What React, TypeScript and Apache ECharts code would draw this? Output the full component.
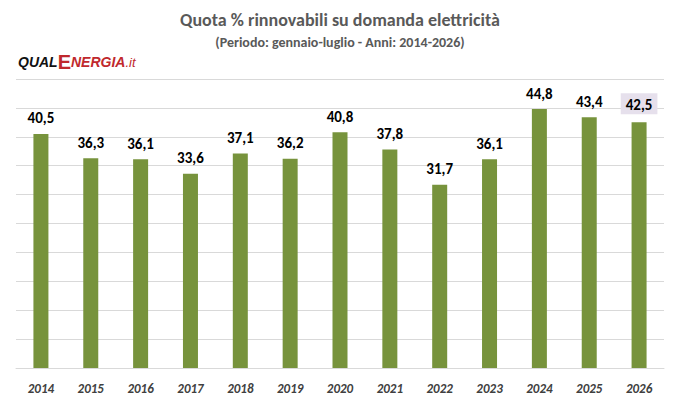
import { useEffect, useRef } from "react";
import * as echarts from "echarts";

const years = ["2014", "2015", "2016", "2017", "2018", "2019", "2020", "2021", "2022", "2023", "2024", "2025", "2026"];
const shares = [40.5, 36.3, 36.1, 33.6, 37.1, 36.2, 40.8, 37.8, 31.7, 36.1, 44.8, 43.4, 42.5];

export default function App() {
  const ref = useRef<HTMLDivElement>(null);

  useEffect(() => {
    if (!ref.current) return;
    const chart = echarts.init(ref.current, null, { renderer: "svg" });
    const font = "Calibri, Carlito, 'Open Sans', sans-serif";
    chart.setOption({
      animation: false,
      backgroundColor: "#fff",
      textStyle: { fontFamily: font },
      title: {
        text: "Quota % rinnovabili su domanda elettricità",
        subtext: "(Periodo: gennaio-luglio - Anni: 2014-2026)",
        left: "center",
        top: 6,
        itemGap: 6,
        textStyle: { color: "#595959", fontSize: 18, fontWeight: "bold", fontFamily: font },
        subtextStyle: { color: "#595959", fontSize: 14, fontWeight: "bold", fontFamily: font },
      },
      graphic: [
        {
          type: "text",
          left: 18,
          top: 52,
          style: {
            text: "{a|QUAL}{e|E}{b|NERGIA}{c|.it}",
            rich: {
              a: { fontSize: 14, fontWeight: "bold", fontStyle: "italic", fill: "#111", fontFamily: "Arial, sans-serif" },
              e: { fontSize: 20, fontWeight: "bold", fill: "#c0282d", fontFamily: "Arial, sans-serif" },
              b: { fontSize: 14, fontWeight: "bold", fontStyle: "italic", fill: "#c0282d", fontFamily: "Arial, sans-serif" },
              c: { fontSize: 13, fontStyle: "italic", fill: "#c0282d", fontFamily: "Arial, sans-serif" },
            },
          },
        },
        {
          type: "rect",
          left: 0.5,
          top: 0.5,
          shape: { width: 678, height: 403 },
          style: { fill: "none", stroke: "#c8c8c8", lineWidth: 1 },
          silent: true,
        },
      ],
      grid: { left: 16, right: 16, top: 79, bottom: 37 },
      xAxis: {
        type: "category",
        data: years,
        axisTick: { show: false },
        axisLine: { lineStyle: { color: "#d9d9d9" } },
        axisLabel: { color: "#404040", fontSize: 13, fontWeight: "bold", fontStyle: "italic", margin: 14 },
      },
      yAxis: {
        type: "value",
        min: 0,
        max: 50,
        interval: 5,
        axisLabel: { show: false },
        splitLine: { lineStyle: { color: "#d9d9d9" } },
      },
      series: [
        {
          type: "bar",
          data: shares.map((v, i) =>
            i === shares.length - 1
              ? {
                  value: v,
                  label: { backgroundColor: "#e6e0ec", padding: [4, 5, 2, 5] },
                }
              : v
          ),
          barWidth: 15,
          itemStyle: { color: "#77933c" },
          label: {
            show: true,
            position: "top",
            distance: 8,
            color: "#000",
            fontSize: 15,
            fontWeight: "bold",
            formatter: (p: any) => String(p.value).replace(".", ","),
          },
        },
      ],
    });
    return () => chart.dispose();
  }, []);

  return <div ref={ref} style={{ width: 680, height: 405, margin: -8 }} />;
}
